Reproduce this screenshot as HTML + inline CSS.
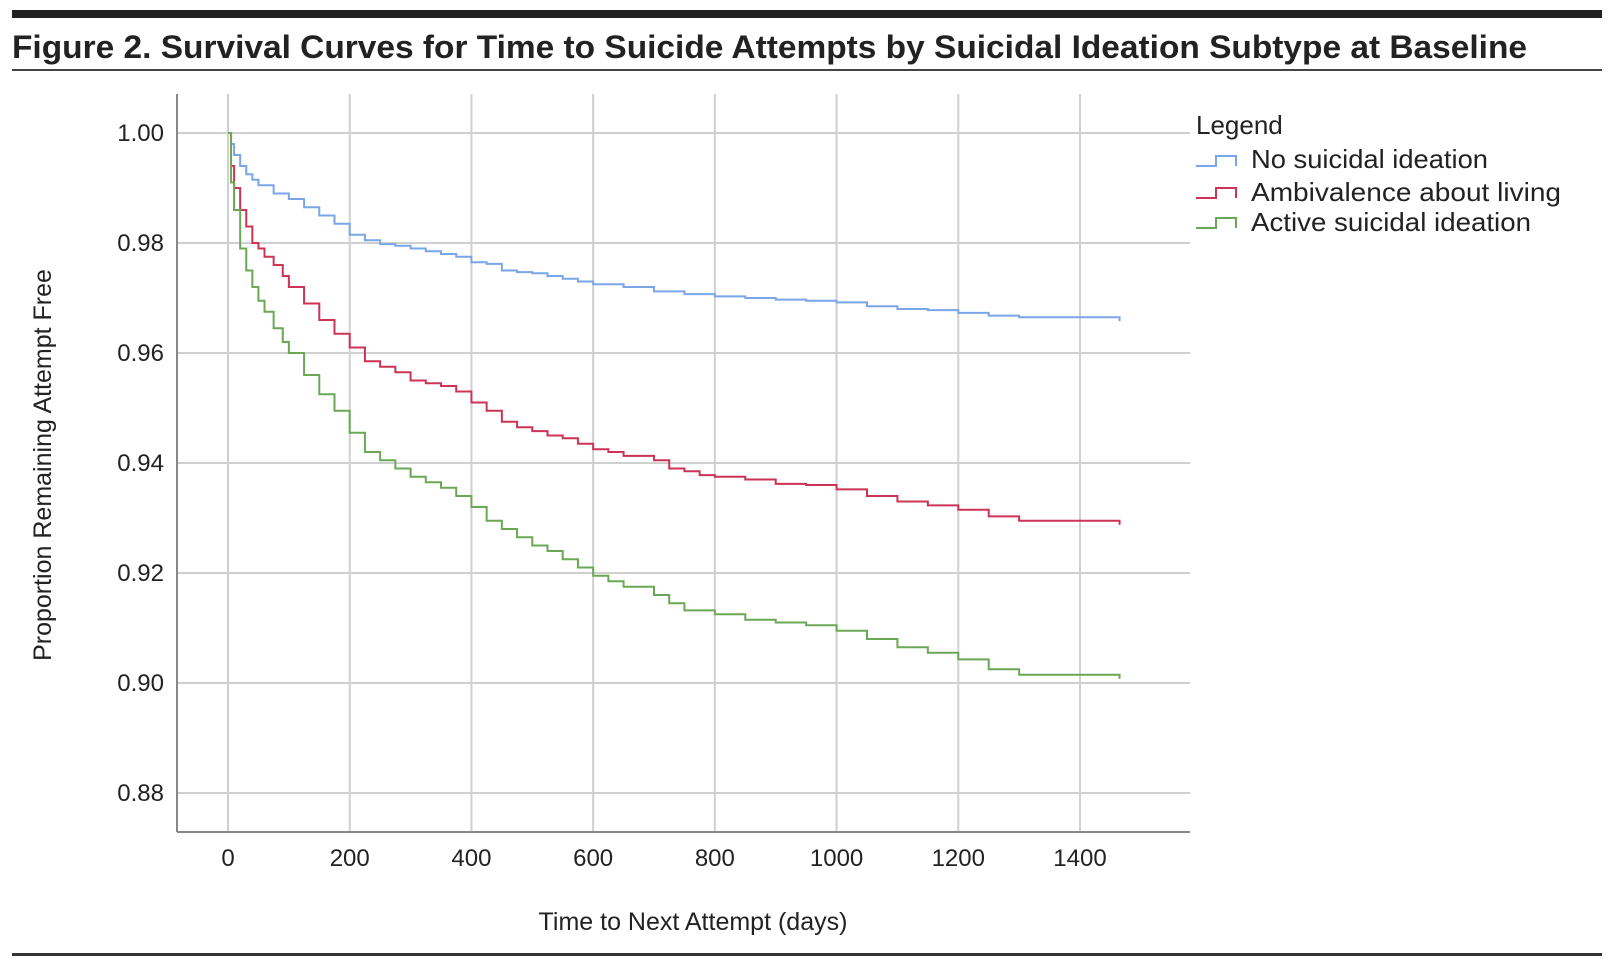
<!DOCTYPE html>
<html><head><meta charset="utf-8"><style>
html,body{margin:0;padding:0;background:#fff;}
svg{display:block;font-family:"Liberation Sans",sans-serif;}
</style></head><body>
<svg width="1610" height="968" xmlns="http://www.w3.org/2000/svg">
<rect x="12" y="10" width="1590" height="8" fill="#222"/>
<text x="12" y="58" font-size="32" font-weight="bold" fill="#222" textLength="1515" lengthAdjust="spacingAndGlyphs">Figure 2. Survival Curves for Time to Suicide Attempts by Suicidal Ideation Subtype at Baseline</text>
<rect x="12" y="69" width="1590" height="2" fill="#444"/>
<rect x="12" y="953" width="1590" height="3" fill="#333"/>
<g id="grid"></g><g id="axes"></g><g id="series"></g>
<text transform="translate(51,465) rotate(-90)" text-anchor="middle" font-size="25" fill="#222">Proportion Remaining Attempt Free</text>
<text x="693" y="930" text-anchor="middle" font-size="25" fill="#222">Time to Next Attempt (days)</text>
<g>
<text x="1196" y="134" font-size="26" fill="#222">Legend</text>
<g><path d="M1196 166 h20 v-10 h20 v10" fill="none" stroke="#7aa6e8" stroke-width="2"/><text x="1251" y="168" font-size="26" fill="#222" textLength="237" lengthAdjust="spacingAndGlyphs">No suicidal ideation</text></g>
<g><path d="M1196 198 h20 v-10 h20 v10" fill="none" stroke="#cc3355" stroke-width="2"/><text x="1251" y="201" font-size="26" fill="#222" textLength="310" lengthAdjust="spacingAndGlyphs">Ambivalence about living</text></g>
<g><path d="M1196 228 h20 v-10 h20 v10" fill="none" stroke="#6aa855" stroke-width="2"/><text x="1251" y="231" font-size="26" fill="#222" textLength="280" lengthAdjust="spacingAndGlyphs">Active suicidal ideation</text></g>
</g>
</svg>
<script>
const xTicks=[0,200,400,600,800,1000,1200,1400];
const yTicks=[0.88,0.90,0.92,0.94,0.96,0.98,1.00];
const yTickLabels=["0.88","0.90","0.92","0.94","0.96","0.98","1.00"];
const noneT=[0,5,10,20,30,40,50,75,100,125,150,175,200,225,250,275,300,325,350,375,400,425,450,475,500,525,550,575,600,650,700,750,800,850,900,950,1000,1050,1100,1150,1200,1250,1300,1465];
const noneS=[1.0,0.998,0.996,0.994,0.9925,0.9915,0.9905,0.989,0.988,0.9865,0.985,0.9835,0.9815,0.9805,0.9798,0.9795,0.979,0.9785,0.978,0.9775,0.9765,0.9762,0.975,0.9747,0.9745,0.974,0.9735,0.973,0.9725,0.972,0.9712,0.9707,0.9703,0.970,0.9697,0.9695,0.9692,0.9685,0.968,0.9678,0.9673,0.9668,0.9665,0.9665];
const ambT=[0,5,10,20,30,40,50,60,75,90,100,125,150,175,200,225,250,275,300,325,350,375,400,425,450,475,500,525,550,575,600,625,650,700,725,750,775,800,850,900,950,1000,1050,1100,1150,1200,1250,1300,1465];
const ambS=[1.0,0.994,0.990,0.986,0.983,0.980,0.979,0.9775,0.976,0.974,0.972,0.969,0.966,0.9635,0.961,0.9585,0.9575,0.9565,0.955,0.9545,0.954,0.953,0.951,0.9495,0.9475,0.9465,0.9458,0.945,0.9445,0.9435,0.9425,0.942,0.9413,0.9405,0.939,0.9385,0.9378,0.9375,0.937,0.9362,0.936,0.9352,0.934,0.933,0.9323,0.9315,0.9303,0.9295,0.9295];
const actT=[0,5,10,20,30,40,50,60,75,90,100,125,150,175,200,225,250,275,300,325,350,375,400,425,450,475,500,525,550,575,600,625,650,700,725,750,800,850,900,950,1000,1050,1100,1150,1200,1250,1300,1465];
const actS=[1.0,0.991,0.986,0.979,0.975,0.972,0.9695,0.9675,0.9645,0.962,0.960,0.956,0.9525,0.9495,0.9455,0.942,0.9405,0.939,0.9375,0.9365,0.9355,0.934,0.932,0.9295,0.928,0.9265,0.925,0.924,0.9225,0.921,0.9195,0.9185,0.9175,0.916,0.9145,0.9132,0.9125,0.9115,0.911,0.9105,0.9095,0.908,0.9065,0.9055,0.9043,0.9025,0.9015,0.9015];
const NS="http://www.w3.org/2000/svg";
const L=177,R=1190,T=94,B=832;
function xs(v){return 228+v*(852/1400);}
function ys(v){return 133+(1-v)*5500;}
function mk(tag,attrs,parent){const e=document.createElementNS(NS,tag);for(const k in attrs)e.setAttribute(k,attrs[k]);parent.appendChild(e);return e;}
const grid=document.getElementById('grid'),axes=document.getElementById('axes'),ser=document.getElementById('series');
xTicks.forEach(t=>{
 const l=mk('line',{x1:xs(t),x2:xs(t),y1:T,y2:B,stroke:'#d0d0d0','stroke-width':2},grid);
 
 
 const tx=mk('text',{x:xs(t),y:866,'text-anchor':'middle','font-size':24,fill:'#222'},axes);
 tx.textContent=String(t);
 
 
});
yTicks.forEach((t,i)=>{
 const l=mk('line',{x1:L,x2:R,y1:ys(t),y2:ys(t),stroke:'#d0d0d0','stroke-width':2},grid);
 
 
 const tx=mk('text',{x:164,y:ys(t)+8,'text-anchor':'end','font-size':24,fill:'#222'},axes);
 tx.textContent=yTickLabels[i];
 
 
});
const ya=mk('line',{x1:L,x2:L,y1:T,y2:B,stroke:'#888','stroke-width':2},axes);


const xa=mk('line',{x1:L,x2:R,y1:B,y2:B,stroke:'#888','stroke-width':2},axes);


function step(ts,ss,color,name){
 let d='M'+xs(ts[0])+' '+ys(ss[0]);
 for(let i=1;i<ts.length;i++){d+=' H'+xs(ts[i])+' V'+ys(ss[i]);}
 d+=' v4';
 const p=mk('path',{d:d,fill:'none',stroke:color,'stroke-width':2},ser);
 
 
}
step(noneT,noneS,'#7aa6e8','curve-no-ideation');
step(ambT,ambS,'#cc3355','curve-ambivalence');
step(actT,actS,'#6aa855','curve-active-ideation');
</script>
</body></html>
